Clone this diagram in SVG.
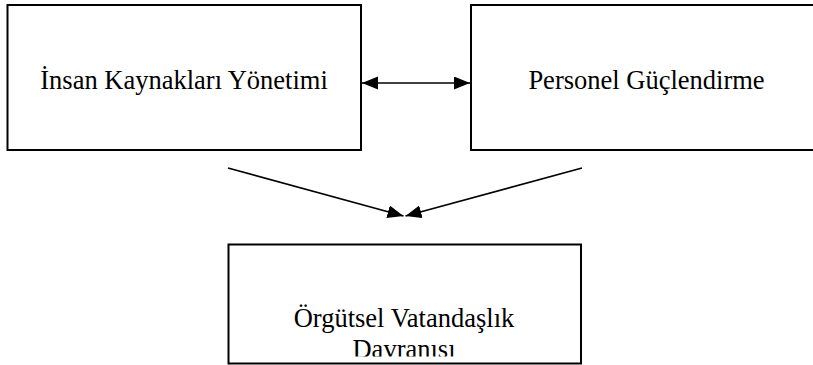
<svg xmlns="http://www.w3.org/2000/svg" width="813" height="365" viewBox="0 0 813 365">
  <style>
    .box { fill: #fff; stroke: #000; stroke-width: 2; }
    .label { font-family: "Liberation Serif", "Times New Roman", serif; font-size: 26.5px; fill: #000; text-anchor: middle; }
    .link { stroke: #000; stroke-width: 1.6; fill: none; }
  </style>
  <defs>
    <marker id="head" markerUnits="userSpaceOnUse" markerWidth="18" markerHeight="14" refX="16" refY="6.5" orient="auto-start-reverse">
      <path d="M0,0 L16,6.5 L0,13 Z" fill="#000"/>
    </marker>
    <clipPath id="outcomeClip">
      <rect x="229" y="245" width="351" height="111.5"/>
    </clipPath>
  </defs>
  <rect width="813" height="365" fill="#fff"/>

  <g id="node-ikyonetimi">
    <rect class="box" x="7.5" y="5" width="353.5" height="145"/>
    <text class="label" x="184" y="88.5">İnsan Kaynakları Yönetimi</text>
  </g>

  <g id="node-guclendirme">
    <rect class="box" x="471" y="5" width="352" height="145"/>
    <text class="label" x="646.5" y="88.5">Personel Güçlendirme</text>
  </g>

  <g id="node-vatandaslik">
    <rect class="box" x="228.5" y="244.5" width="352.5" height="119" stroke-width="1.6"/>
    <g clip-path="url(#outcomeClip)">
      <text class="label" x="404" y="327">Örgütsel Vatandaşlık</text>
      <text class="label" x="404" y="357.5">Davranışı</text>
    </g>
  </g>

  <g id="connectors">
    <line class="link" x1="362" y1="83" x2="470" y2="83" marker-start="url(#head)" marker-end="url(#head)"/>
    <line class="link" x1="228" y1="168" x2="403.5" y2="216" marker-end="url(#head)"/>
    <line class="link" x1="582" y1="168" x2="405.5" y2="216" marker-end="url(#head)"/>
  </g>
</svg>
